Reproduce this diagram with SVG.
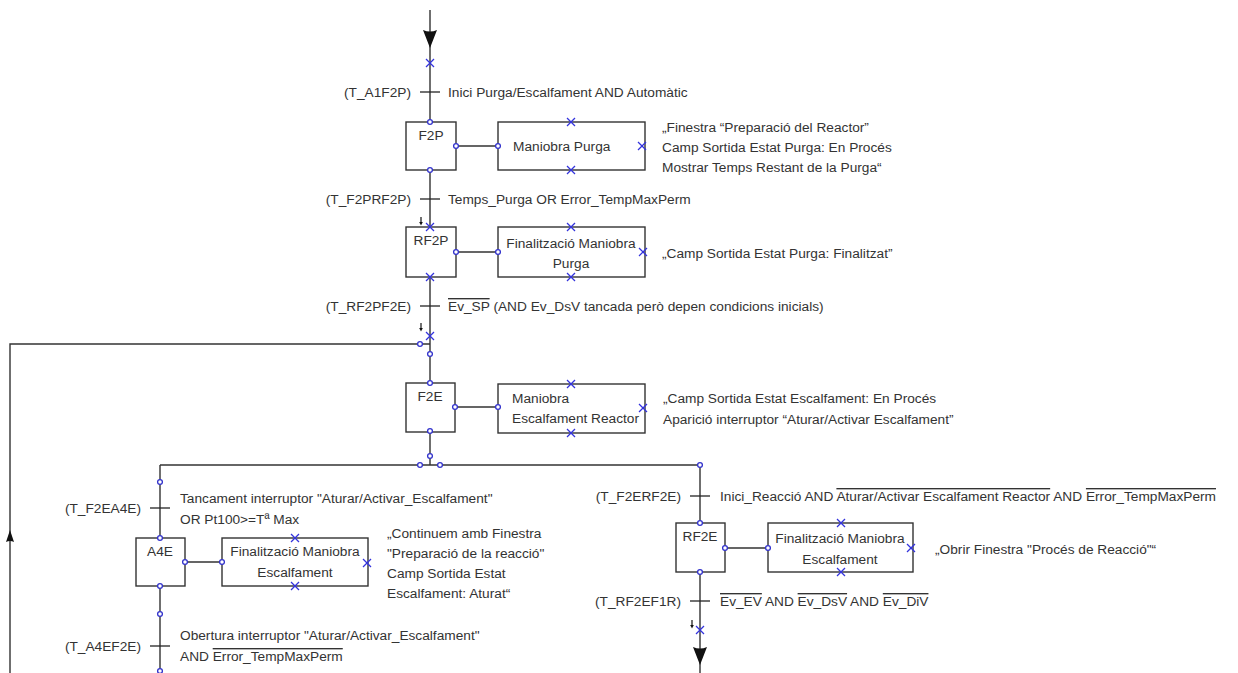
<svg xmlns="http://www.w3.org/2000/svg" width="1238" height="673" viewBox="0 0 1238 673">
  <style>
    text { font-family: "Liberation Sans", Arial, sans-serif; font-size: 13.7px; fill: #333; }
    .box { fill: #fff; stroke: #333; stroke-width: 1.4; }
    .wire { fill: none; stroke: #333; stroke-width: 1.4; }
    .tick { stroke: #222; stroke-width: 1.3; }
    .dot { fill: #fff; stroke: #3333cc; stroke-width: 1.3; }
    .xm { stroke: #3333dd; stroke-width: 1.2; }
    .lbl { text-anchor: end; }
    .mid { text-anchor: middle; }
    .ov { text-decoration: overline; }
  </style>
  <defs>
    <!-- blue cross marker used on open ports -->
    <g id="cross">
      <line class="xm" x1="-4" y1="-4" x2="4" y2="4"/>
      <line class="xm" x1="-4" y1="4" x2="4" y2="-4"/>
    </g>
    <!-- tiny flow arrow beside a link -->
    <g id="mini">
      <line x1="0" y1="-5" x2="0" y2="1" stroke="#111" stroke-width="1.2"/>
      <path d="M-1.8,0 L1.8,0 L0,3.5 Z" fill="#111"/>
    </g>
    <!-- large flow arrowhead -->
    <path id="bigdown" d="M-7,0 Q0,3 7,0 L0,18 Z" fill="#111"/>
  </defs>

  <!-- links between steps -->
  <g id="connectors">
    <path class="wire" d="M430,10 V122 M430,170 V227 M430,277 V383 M430,432 V465"/>
    <path class="wire" d="M430,344 H10 V673"/>
    <path class="wire" d="M160,465 H700"/>
    <path class="wire" d="M160,465 V538 M160,586 V673"/>
    <path class="wire" d="M700,465 V523 M700,572 V673"/>
    <path class="wire" d="M456,146 H498 M456,252 H498 M455,407 H498 M185,562 H222 M725,548 H768"/>

    <!-- arrowheads -->
    <use href="#bigdown" x="430" y="30"/>
    <use href="#bigdown" x="700" y="647"/>
    <path d="M10,530 L14,542 Q10,540 6,542 Z" fill="#111"/>
    <use href="#mini" x="421" y="222"/>
    <use href="#mini" x="421" y="328"/>
    <use href="#mini" x="692" y="625"/>

    <!-- transition bars -->
    <line class="tick" x1="420" y1="92" x2="440" y2="92"/>
    <line class="tick" x1="420" y1="199" x2="440" y2="199"/>
    <line class="tick" x1="420" y1="306" x2="440" y2="306"/>
    <line class="tick" x1="150" y1="508" x2="170" y2="508"/>
    <line class="tick" x1="150" y1="646" x2="170" y2="646"/>
    <line class="tick" x1="690" y1="496" x2="710" y2="496"/>
    <line class="tick" x1="690" y1="601" x2="710" y2="601"/>

    <!-- ports on links -->
    <use href="#cross" x="430" y="63"/>
    <use href="#cross" x="430" y="336"/>
    <use href="#cross" x="700" y="630"/>
    <circle class="dot" cx="420" cy="344" r="2.4"/>
    <circle class="dot" cx="430" cy="354" r="2.4"/>
    <circle class="dot" cx="430" cy="456" r="2.4"/>
    <circle class="dot" cx="420" cy="465" r="2.4"/>
    <circle class="dot" cx="440" cy="465" r="2.4"/>
    <circle class="dot" cx="160" cy="482" r="2.4"/>
    <circle class="dot" cx="700" cy="465" r="2.4"/>
    <circle class="dot" cx="160" cy="614" r="2.4"/>
    <circle class="dot" cx="160" cy="671" r="2.4"/>

    <!-- transition labels and conditions -->
    <text class="lbl" x="411" y="97">(T_A1F2P)</text>
    <text x="448" y="97">Inici Purga/Escalfament AND Automàtic</text>
    <text class="lbl" x="411" y="204">(T_F2PRF2P)</text>
    <text x="448" y="204">Temps_Purga OR Error_TempMaxPerm</text>
    <text class="lbl" x="411" y="311">(T_RF2PF2E)</text>
    <text x="448" y="311"><tspan class="ov">Ev_SP</tspan> (AND Ev_DsV tancada però depen condicions inicials)</text>
    <text class="lbl" x="141" y="513">(T_F2EA4E)</text>
    <text x="180" y="503">Tancament interruptor "Aturar/Activar_Escalfament"</text>
    <text x="180" y="524">OR Pt100&gt;=Tª Max</text>
    <text class="lbl" x="141" y="651">(T_A4EF2E)</text>
    <text x="180" y="640">Obertura interruptor "Aturar/Activar_Escalfament"</text>
    <text x="180" y="661">AND <tspan class="ov">Error_TempMaxPerm</tspan></text>
    <text class="lbl" x="681" y="501">(T_F2ERF2E)</text>
    <text x="720" y="501">Inici_Reacció AND <tspan class="ov">Aturar/Activar Escalfament Reactor</tspan> AND <tspan class="ov">Error_TempMaxPerm</tspan></text>
    <text class="lbl" x="681" y="606">(T_RF2EF1R)</text>
    <text x="720" y="606"><tspan class="ov">Ev_EV</tspan> AND <tspan class="ov">Ev_DsV</tspan> AND <tspan class="ov">Ev_DiV</tspan></text>
  </g>

  <!-- step F2P -->
  <g id="F2P">
    <rect class="box" x="406" y="122" width="50" height="48"/>
    <text class="mid" x="431" y="140">F2P</text>
    <circle class="dot" cx="430" cy="122" r="2.4"/>
    <circle class="dot" cx="456" cy="146" r="2.4"/>
    <circle class="dot" cx="430" cy="170" r="2.4"/>
  </g>
  <g id="F2P-action">
    <rect class="box" x="498" y="122" width="147" height="48"/>
    <text x="513" y="151">Maniobra Purga</text>
    <circle class="dot" cx="498" cy="146" r="2.4"/>
    <use href="#cross" x="571" y="122"/>
    <use href="#cross" x="571" y="170"/>
    <use href="#cross" x="642" y="146"/>
    <text x="662" y="132">„Finestra “Preparació del Reactor”</text>
    <text x="662" y="152">Camp Sortida Estat Purga: En Procés</text>
    <text x="662" y="172">Mostrar Temps Restant de la Purga“</text>
  </g>

  <!-- step RF2P -->
  <g id="RF2P">
    <rect class="box" x="406" y="227" width="50" height="50"/>
    <text class="mid" x="431" y="245">RF2P</text>
    <use href="#cross" x="430" y="227"/>
    <use href="#cross" x="430" y="277"/>
    <circle class="dot" cx="456" cy="252" r="2.4"/>
  </g>
  <g id="RF2P-action">
    <rect class="box" x="498" y="227" width="147" height="50"/>
    <text class="mid" x="571" y="248">Finalització Maniobra</text>
    <text class="mid" x="571" y="268">Purga</text>
    <circle class="dot" cx="498" cy="252" r="2.4"/>
    <use href="#cross" x="571" y="227"/>
    <use href="#cross" x="571" y="277"/>
    <use href="#cross" x="643" y="252"/>
    <text x="662" y="258">„Camp Sortida Estat Purga: Finalitzat”</text>
  </g>

  <!-- step F2E -->
  <g id="F2E">
    <rect class="box" x="406" y="383" width="49" height="49"/>
    <text class="mid" x="430" y="401">F2E</text>
    <circle class="dot" cx="430" cy="383" r="2.4"/>
    <circle class="dot" cx="455" cy="407" r="2.4"/>
    <circle class="dot" cx="430" cy="431" r="2.4"/>
  </g>
  <g id="F2E-action">
    <rect class="box" x="498" y="384" width="147" height="49"/>
    <text x="512" y="403">Maniobra</text>
    <text x="512" y="423">Escalfament Reactor</text>
    <circle class="dot" cx="498" cy="407" r="2.4"/>
    <use href="#cross" x="571" y="384"/>
    <use href="#cross" x="571" y="433"/>
    <use href="#cross" x="643" y="408"/>
    <text x="663" y="403">„Camp Sortida Estat Escalfament: En Procés</text>
    <text x="663" y="424">Aparició interruptor “Aturar/Activar Escalfament”</text>
  </g>

  <!-- step A4E -->
  <g id="A4E">
    <rect class="box" x="136" y="538" width="49" height="48"/>
    <text class="mid" x="160" y="556">A4E</text>
    <circle class="dot" cx="160" cy="538" r="2.4"/>
    <circle class="dot" cx="185" cy="562" r="2.4"/>
    <circle class="dot" cx="160" cy="586" r="2.4"/>
  </g>
  <g id="A4E-action">
    <rect class="box" x="222" y="538" width="146" height="48"/>
    <text class="mid" x="295" y="556">Finalització Maniobra</text>
    <text class="mid" x="295" y="577">Escalfament</text>
    <circle class="dot" cx="222" cy="562" r="2.4"/>
    <use href="#cross" x="295" y="538"/>
    <use href="#cross" x="295" y="586"/>
    <use href="#cross" x="367" y="563"/>
    <text x="387" y="538">„Continuem amb Finestra</text>
    <text x="387" y="558">"Preparació de la reacció"</text>
    <text x="387" y="578">Camp Sortida Estat</text>
    <text x="387" y="598">Escalfament: Aturat“</text>
  </g>

  <!-- step RF2E -->
  <g id="RF2E">
    <rect class="box" x="676" y="523" width="49" height="49"/>
    <text class="mid" x="700" y="541">RF2E</text>
    <circle class="dot" cx="700" cy="523" r="2.4"/>
    <circle class="dot" cx="725" cy="548" r="2.4"/>
    <circle class="dot" cx="700" cy="572" r="2.4"/>
  </g>
  <g id="RF2E-action">
    <rect class="box" x="768" y="523" width="145" height="49"/>
    <text class="mid" x="840" y="543">Finalització Maniobra</text>
    <text class="mid" x="840" y="564">Escalfament</text>
    <circle class="dot" cx="768" cy="548" r="2.4"/>
    <use href="#cross" x="841" y="523"/>
    <use href="#cross" x="841" y="572"/>
    <use href="#cross" x="911" y="548"/>
    <text x="935" y="554">„Obrir Finestra "Procés de Reacció"“</text>
  </g>
</svg>
